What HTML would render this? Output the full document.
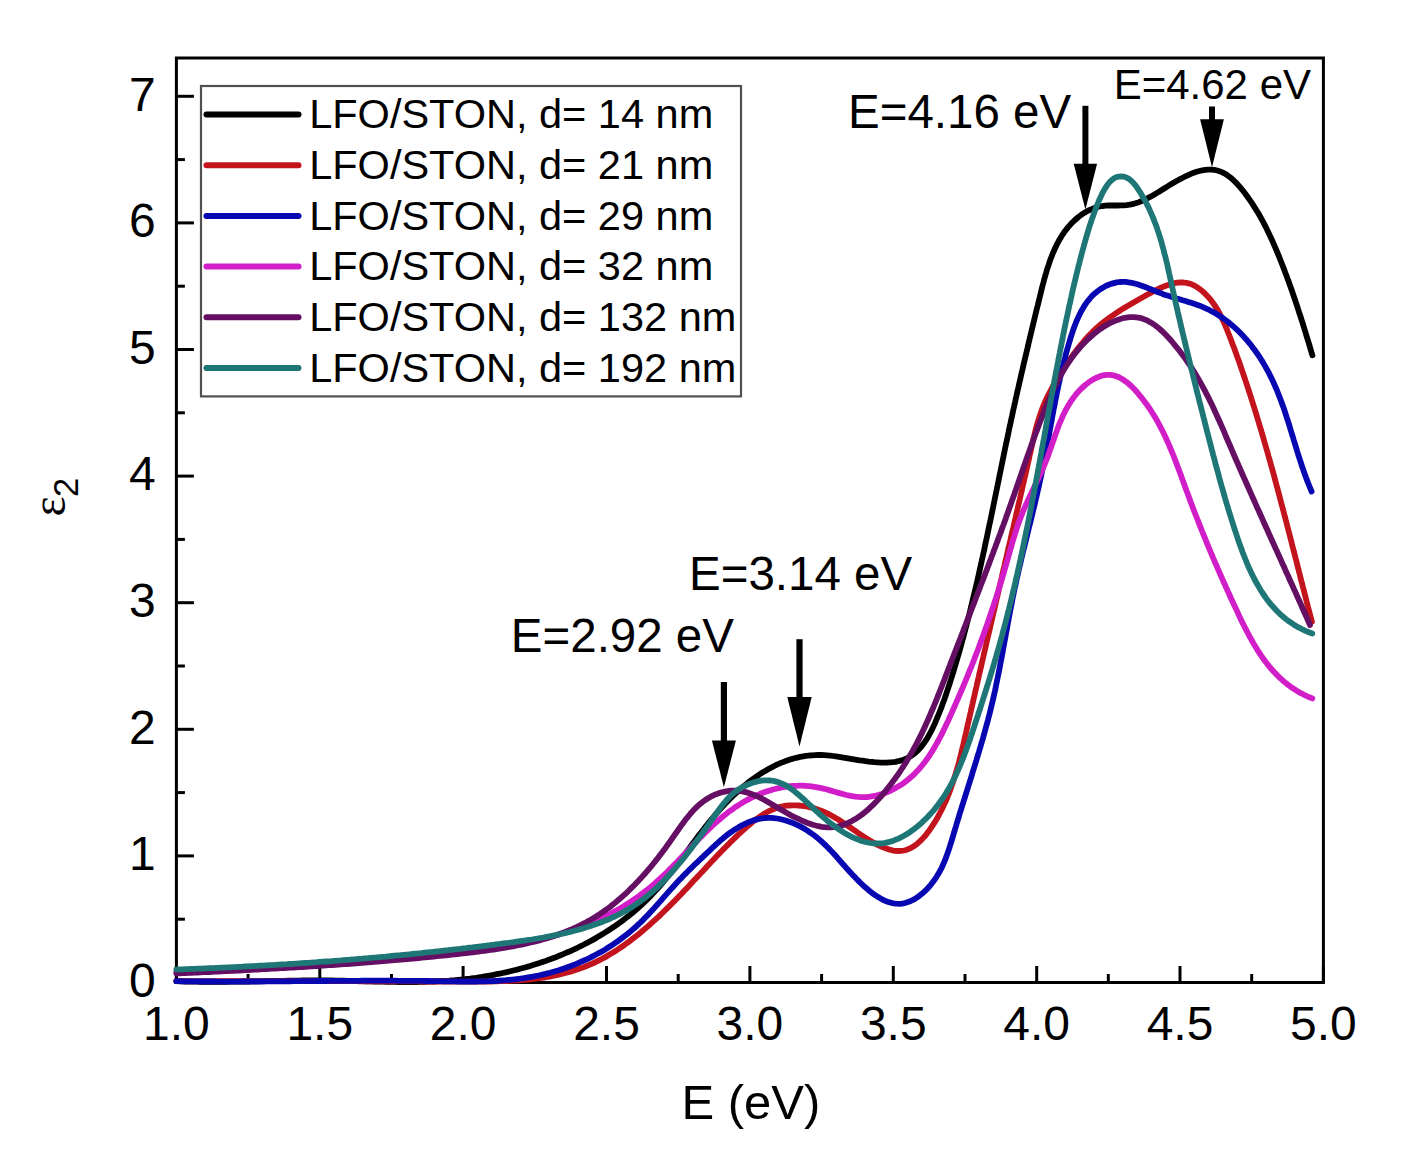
<!DOCTYPE html>
<html><head><meta charset="utf-8"><style>
html,body{margin:0;padding:0;background:#fff;}
svg{display:block;}
text{font-family:"Liberation Sans",sans-serif;fill:#000;}
</style></head><body>
<svg width="1416" height="1162" viewBox="0 0 1416 1162">
<rect x="0" y="0" width="1416" height="1162" fill="#fff"/>
<rect x="176.4" y="58" width="1147.0" height="924.5" fill="none" stroke="#000" stroke-width="3"/>
<g stroke="#000" stroke-width="3">
<line x1="176.4" y1="982.5" x2="176.4" y2="966.0"/>
<line x1="248.1" y1="982.5" x2="248.1" y2="974.0"/>
<line x1="319.8" y1="982.5" x2="319.8" y2="966.0"/>
<line x1="391.5" y1="982.5" x2="391.5" y2="974.0"/>
<line x1="463.1" y1="982.5" x2="463.1" y2="966.0"/>
<line x1="534.8" y1="982.5" x2="534.8" y2="974.0"/>
<line x1="606.5" y1="982.5" x2="606.5" y2="966.0"/>
<line x1="678.2" y1="982.5" x2="678.2" y2="974.0"/>
<line x1="749.9" y1="982.5" x2="749.9" y2="966.0"/>
<line x1="821.6" y1="982.5" x2="821.6" y2="974.0"/>
<line x1="893.3" y1="982.5" x2="893.3" y2="966.0"/>
<line x1="965.0" y1="982.5" x2="965.0" y2="974.0"/>
<line x1="1036.7" y1="982.5" x2="1036.7" y2="966.0"/>
<line x1="1108.3" y1="982.5" x2="1108.3" y2="974.0"/>
<line x1="1180.0" y1="982.5" x2="1180.0" y2="966.0"/>
<line x1="1251.7" y1="982.5" x2="1251.7" y2="974.0"/>
<line x1="1323.4" y1="982.5" x2="1323.4" y2="966.0"/>
<line x1="176.4" y1="982.5" x2="193.9" y2="982.5"/>
<line x1="176.4" y1="919.2" x2="184.9" y2="919.2"/>
<line x1="176.4" y1="855.9" x2="193.9" y2="855.9"/>
<line x1="176.4" y1="792.6" x2="184.9" y2="792.6"/>
<line x1="176.4" y1="729.3" x2="193.9" y2="729.3"/>
<line x1="176.4" y1="666.0" x2="184.9" y2="666.0"/>
<line x1="176.4" y1="602.7" x2="193.9" y2="602.7"/>
<line x1="176.4" y1="539.4" x2="184.9" y2="539.4"/>
<line x1="176.4" y1="476.1" x2="193.9" y2="476.1"/>
<line x1="176.4" y1="412.8" x2="184.9" y2="412.8"/>
<line x1="176.4" y1="349.5" x2="193.9" y2="349.5"/>
<line x1="176.4" y1="286.2" x2="184.9" y2="286.2"/>
<line x1="176.4" y1="222.9" x2="193.9" y2="222.9"/>
<line x1="176.4" y1="159.6" x2="184.9" y2="159.6"/>
<line x1="176.4" y1="96.3" x2="193.9" y2="96.3"/>
</g>
<g fill="none" stroke-width="5.8" stroke-linecap="round" stroke-linejoin="round">
<path d="M176.4,981.2L179.4,981.3 182.4,981.4 185.4,981.5 188.4,981.6 191.4,981.6 194.4,981.7 197.4,981.7 200.4,981.8 203.4,981.8 206.4,981.8 209.4,981.8 212.4,981.8 215.4,981.8 218.4,981.8 221.4,981.8 224.4,981.8 227.4,981.8 230.4,981.7 233.4,981.7 236.4,981.7 239.4,981.6 242.4,981.6 245.4,981.5 248.4,981.5 251.4,981.4 254.4,981.4 257.4,981.3 260.3,981.2 263.3,981.2 266.3,981.1 269.3,981.1 272.3,981.0 275.3,980.9 278.3,980.9 281.3,980.8 284.3,980.8 287.3,980.7 290.3,980.7 293.3,980.6 296.3,980.6 299.3,980.6 302.3,980.5 305.3,980.5 308.3,980.5 311.3,980.5 314.3,980.4 317.3,980.4 320.3,980.4 323.3,980.5 326.3,980.5 329.3,980.5 332.3,980.5 335.3,980.6 338.3,980.6 341.3,980.7 344.3,980.7 347.3,980.8 350.3,980.9 353.3,981.0 356.3,981.0 359.3,981.1 362.3,981.2 365.3,981.3 368.3,981.4 371.3,981.4 374.3,981.5 377.3,981.6 380.3,981.7 383.3,981.7 386.3,981.8 389.3,981.8 392.3,981.9 395.3,981.9 398.3,982.0 401.3,982.0 404.3,982.0 407.3,982.0 410.3,982.0 413.3,982.0 416.3,982.0 419.3,981.9 422.2,981.9 425.2,981.8 428.2,981.7 431.2,981.6 434.2,981.5 437.2,981.4 440.2,981.2 443.2,981.1 446.2,980.9 449.2,980.7 452.2,980.4 455.2,980.2 458.2,979.9 461.2,979.6 464.1,979.3 467.1,978.9 470.1,978.6 473.1,978.2 476.0,977.8 479.0,977.3 482.0,976.9 484.9,976.4 487.9,975.9 490.8,975.4 493.8,974.8 496.7,974.2 499.7,973.7 502.6,973.0 505.5,972.4 508.4,971.7 511.4,971.0 514.3,970.3 517.2,969.6 520.1,968.8 523.0,968.0 525.9,967.2 528.7,966.4 531.6,965.5 534.5,964.6 537.3,963.7 540.2,962.8 543.0,961.8 545.9,960.9 548.7,959.8 551.5,958.8 554.3,957.7 557.1,956.7 559.9,955.5 562.6,954.4 565.4,953.2 568.2,952.0 570.9,950.8 573.6,949.6 576.3,948.3 579.0,947.0 581.7,945.7 584.4,944.3 587.1,942.9 589.7,941.5 592.3,940.1 595.0,938.6 597.6,937.1 600.1,935.6 602.7,934.0 605.3,932.4 607.8,930.8 610.3,929.2 612.8,927.5 615.3,925.8 617.7,924.1 620.1,922.4 622.6,920.6 624.9,918.8 627.3,916.9 629.7,915.1 632.0,913.2 634.3,911.2 636.6,909.3 638.8,907.3 641.0,905.3 643.2,903.3 645.4,901.2 647.5,899.1 649.7,897.0 651.7,894.8 653.8,892.6 655.8,890.4 657.8,888.2 659.8,886.0 661.8,883.7 663.7,881.4 665.6,879.1 667.5,876.8 669.4,874.4 671.3,872.1 673.1,869.7 675.0,867.3 676.8,865.0 678.6,862.6 680.4,860.2 682.2,857.8 684.0,855.4 685.8,853.0 687.6,850.6 689.4,848.2 691.1,845.7 692.9,843.3 694.7,840.9 696.5,838.5 698.3,836.1 700.1,833.8 702.0,831.4 703.8,829.0 705.6,826.6 707.5,824.3 709.4,821.9 711.3,819.6 713.2,817.3 715.1,815.0 717.1,812.7 719.0,810.5 721.0,808.2 723.1,806.0 725.1,803.8 727.2,801.7 729.3,799.5 731.4,797.4 733.5,795.3 735.7,793.3 737.9,791.2 740.2,789.2 742.4,787.3 744.7,785.4 747.1,783.5 749.4,781.6 751.8,779.8 754.3,778.0 756.7,776.3 759.2,774.6 761.7,773.0 764.3,771.4 766.9,769.9 769.5,768.5 772.1,767.1 774.8,765.7 777.5,764.4 780.3,763.2 783.0,762.1 785.8,761.0 788.7,760.0 791.5,759.1 794.4,758.3 797.3,757.6 800.2,756.9 803.2,756.4 806.1,755.9 809.1,755.5 812.1,755.3 815.1,755.1 818.1,755.0 821.1,755.0 824.1,755.2 827.1,755.4 830.1,755.6 833.1,756.0 836.0,756.4 839.0,756.8 842.0,757.3 844.9,757.8 847.9,758.3 850.8,758.8 853.8,759.3 856.7,759.8 859.7,760.3 862.7,760.7 865.6,761.2 868.6,761.6 871.6,761.9 874.6,762.2 877.6,762.4 880.5,762.6 883.5,762.6 886.5,762.6 889.5,762.4 892.5,762.2 895.5,761.8 898.4,761.2 901.3,760.4 904.2,759.5 906.9,758.3 909.6,756.9 912.1,755.3 914.5,753.5 916.8,751.5 918.9,749.4 920.9,747.2 922.7,744.8 924.5,742.4 926.2,739.9 927.7,737.4 929.2,734.8 930.7,732.1 932.0,729.4 933.3,726.7 934.6,724.0 935.8,721.3 936.9,718.5 938.1,715.7 939.2,713.0 940.3,710.2 941.4,707.4 942.4,704.6 943.5,701.7 944.5,698.9 945.5,696.1 946.4,693.3 947.4,690.4 948.3,687.6 949.3,684.7 950.2,681.9 951.1,679.0 952.0,676.1 952.9,673.3 953.8,670.4 954.6,667.5 955.5,664.7 956.3,661.8 957.2,658.9 958.0,656.0 958.9,653.2 959.7,650.3 960.5,647.4 961.3,644.5 962.1,641.6 962.9,638.7 963.7,635.8 964.4,632.9 965.2,630.0 966.0,627.1 966.7,624.2 967.5,621.3 968.2,618.4 969.0,615.5 969.7,612.6 970.4,609.7 971.1,606.8 971.8,603.9 972.5,600.9 973.2,598.0 973.9,595.1 974.6,592.2 975.3,589.3 976.0,586.4 976.7,583.4 977.4,580.5 978.0,577.6 978.7,574.7 979.3,571.7 980.0,568.8 980.6,565.9 981.3,563.0 981.9,560.0 982.6,557.1 983.2,554.2 983.9,551.2 984.5,548.3 985.1,545.4 985.7,542.4 986.4,539.5 987.0,536.6 987.6,533.6 988.2,530.7 988.8,527.8 989.4,524.8 990.1,521.9 990.7,519.0 991.3,516.0 991.9,513.1 992.5,510.2 993.1,507.2 993.7,504.3 994.3,501.3 994.9,498.4 995.5,495.5 996.1,492.5 996.7,489.6 997.3,486.7 997.9,483.7 998.5,480.8 999.1,477.8 999.7,474.9 1000.3,472.0 1000.9,469.0 1001.5,466.1 1002.1,463.2 1002.7,460.2 1003.3,457.3 1003.9,454.3 1004.5,451.4 1005.1,448.5 1005.7,445.5 1006.3,442.6 1007.0,439.7 1007.6,436.7 1008.2,433.8 1008.8,430.9 1009.4,427.9 1010.1,425.0 1010.7,422.1 1011.3,419.1 1012.0,416.2 1012.6,413.3 1013.2,410.3 1013.9,407.4 1014.5,404.5 1015.2,401.6 1015.8,398.6 1016.5,395.7 1017.1,392.8 1017.8,389.9 1018.5,386.9 1019.1,384.0 1019.8,381.1 1020.5,378.2 1021.1,375.2 1021.8,372.3 1022.5,369.4 1023.2,366.5 1023.8,363.6 1024.5,360.6 1025.2,357.7 1025.9,354.8 1026.6,351.9 1027.3,349.0 1028.0,346.0 1028.6,343.1 1029.3,340.2 1030.0,337.3 1030.7,334.4 1031.4,331.5 1032.1,328.5 1032.8,325.6 1033.5,322.7 1034.2,319.8 1034.9,316.9 1035.6,314.0 1036.3,311.0 1037.0,308.1 1037.8,305.2 1038.5,302.3 1039.2,299.4 1039.9,296.5 1040.6,293.6 1041.3,290.7 1042.0,287.7 1042.8,284.8 1043.6,281.9 1044.3,279.0 1045.1,276.2 1046.0,273.3 1046.8,270.4 1047.7,267.5 1048.7,264.7 1049.6,261.9 1050.6,259.0 1051.7,256.2 1052.8,253.4 1054.0,250.7 1055.2,248.0 1056.5,245.2 1057.9,242.6 1059.3,239.9 1060.8,237.4 1062.4,234.8 1064.1,232.3 1065.9,229.9 1067.7,227.6 1069.7,225.3 1071.7,223.1 1073.9,221.0 1076.1,219.0 1078.4,217.0 1080.8,215.2 1083.2,213.5 1085.8,212.0 1088.4,210.5 1091.2,209.3 1093.9,208.2 1096.8,207.2 1099.7,206.5 1102.7,206.0 1105.6,205.7 1108.6,205.5 1111.6,205.5 1114.6,205.5 1117.6,205.5 1120.6,205.4 1123.6,205.3 1126.6,205.1 1129.6,204.7 1132.5,204.1 1135.4,203.3 1138.3,202.4 1141.1,201.3 1143.8,200.1 1146.5,198.8 1149.2,197.4 1151.8,196.0 1154.4,194.5 1157.0,192.9 1159.5,191.4 1162.1,189.8 1164.6,188.2 1167.2,186.6 1169.7,185.1 1172.3,183.5 1174.9,182.0 1177.5,180.5 1180.1,179.1 1182.8,177.7 1185.5,176.3 1188.2,175.1 1190.9,173.9 1193.7,172.8 1196.6,171.8 1199.5,171.0 1202.4,170.3 1205.3,169.8 1208.3,169.6 1211.3,169.6 1214.3,169.9 1217.2,170.5 1220.1,171.4 1222.8,172.6 1225.5,174.0 1228.0,175.7 1230.4,177.5 1232.6,179.4 1234.8,181.5 1236.9,183.6 1238.9,185.9 1240.9,188.1 1242.8,190.5 1244.6,192.8 1246.4,195.2 1248.2,197.7 1249.9,200.1 1251.6,202.6 1253.2,205.1 1254.8,207.6 1256.4,210.2 1258.0,212.7 1259.5,215.3 1260.9,217.9 1262.4,220.6 1263.8,223.2 1265.2,225.9 1266.5,228.6 1267.8,231.3 1269.1,234.0 1270.4,236.7 1271.7,239.4 1272.9,242.1 1274.1,244.9 1275.3,247.6 1276.5,250.4 1277.6,253.2 1278.8,255.9 1279.9,258.7 1281.0,261.5 1282.1,264.3 1283.2,267.1 1284.3,269.9 1285.3,272.7 1286.4,275.5 1287.4,278.3 1288.5,281.1 1289.5,283.9 1290.5,286.8 1291.5,289.6 1292.5,292.4 1293.4,295.3 1294.4,298.1 1295.4,300.9 1296.3,303.8 1297.3,306.6 1298.2,309.5 1299.1,312.3 1300.1,315.2 1301.0,318.0 1301.9,320.9 1302.8,323.7 1303.7,326.6 1304.6,329.5 1305.5,332.3 1306.3,335.2 1307.2,338.1 1308.1,340.9 1309.0,343.8 1309.8,346.7 1310.7,349.6 1311.5,352.4 1312.4,355.3" stroke="#000000"/>
<path d="M176.4,981.2L179.4,981.2 182.4,981.2 185.4,981.2 188.4,981.2 191.4,981.2 194.4,981.1 197.4,981.1 200.4,981.1 203.4,981.1 206.4,981.1 209.4,981.1 212.4,981.1 215.4,981.1 218.4,981.1 221.4,981.1 224.4,981.1 227.4,981.1 230.4,981.1 233.4,981.1 236.4,981.1 239.3,981.1 242.3,981.1 245.3,981.1 248.3,981.1 251.3,981.1 254.3,981.1 257.3,981.1 260.3,981.1 263.3,981.1 266.3,981.1 269.3,981.1 272.3,981.1 275.3,981.1 278.3,981.1 281.3,981.1 284.3,981.1 287.3,981.1 290.3,981.1 293.3,981.1 296.3,981.1 299.3,981.1 302.3,981.1 305.3,981.1 308.3,981.1 311.3,981.1 314.3,981.1 317.3,981.2 320.3,981.2 323.3,981.2 326.3,981.2 329.3,981.2 332.3,981.2 335.3,981.2 338.3,981.2 341.3,981.2 344.3,981.2 347.3,981.2 350.3,981.2 353.3,981.2 356.3,981.2 359.3,981.3 362.3,981.3 365.2,981.3 368.2,981.3 371.2,981.3 374.2,981.3 377.2,981.3 380.2,981.3 383.2,981.3 386.2,981.3 389.2,981.3 392.2,981.4 395.2,981.4 398.2,981.4 401.2,981.4 404.2,981.4 407.2,981.4 410.2,981.4 413.2,981.4 416.2,981.4 419.2,981.4 422.2,981.5 425.2,981.5 428.2,981.5 431.2,981.5 434.2,981.5 437.2,981.5 440.2,981.5 443.2,981.5 446.2,981.5 449.2,981.5 452.2,981.6 455.2,981.6 458.2,981.6 461.2,981.6 464.2,981.6 467.2,981.6 470.2,981.6 473.2,981.6 476.2,981.6 479.2,981.6 482.2,981.6 485.2,981.5 488.2,981.5 491.1,981.5 494.1,981.4 497.1,981.3 500.1,981.2 503.1,981.1 506.1,981.0 509.1,980.9 512.1,980.7 515.1,980.5 518.1,980.3 521.1,980.1 524.1,979.9 527.1,979.6 530.0,979.3 533.0,979.0 536.0,978.6 539.0,978.2 541.9,977.8 544.9,977.3 547.9,976.8 550.8,976.3 553.7,975.7 556.7,975.1 559.6,974.4 562.5,973.7 565.4,973.0 568.3,972.2 571.2,971.4 574.1,970.5 576.9,969.6 579.8,968.6 582.6,967.6 585.4,966.5 588.2,965.4 590.9,964.2 593.6,963.0 596.4,961.7 599.0,960.4 601.7,959.0 604.3,957.6 607.0,956.1 609.5,954.6 612.1,953.1 614.7,951.5 617.2,949.9 619.7,948.2 622.2,946.5 624.6,944.8 627.0,943.0 629.5,941.3 631.8,939.4 634.2,937.6 636.6,935.8 638.9,933.9 641.2,932.0 643.5,930.0 645.8,928.1 648.1,926.1 650.3,924.2 652.5,922.2 654.8,920.1 657.0,918.1 659.2,916.1 661.3,914.0 663.5,911.9 665.6,909.8 667.8,907.7 669.9,905.6 672.0,903.5 674.1,901.4 676.2,899.2 678.3,897.1 680.4,894.9 682.5,892.7 684.5,890.6 686.6,888.4 688.7,886.2 690.7,884.0 692.7,881.8 694.8,879.6 696.8,877.5 698.9,875.3 700.9,873.1 703.0,870.9 705.0,868.7 707.0,866.5 709.1,864.3 711.1,862.1 713.2,859.9 715.3,857.7 717.3,855.6 719.4,853.4 721.5,851.3 723.6,849.1 725.7,847.0 727.8,844.9 729.9,842.7 732.1,840.6 734.2,838.5 736.4,836.5 738.5,834.4 740.7,832.4 742.9,830.3 745.2,828.3 747.4,826.3 749.7,824.4 752.0,822.5 754.3,820.6 756.7,818.8 759.2,817.1 761.7,815.4 764.2,813.8 766.8,812.3 769.5,810.9 772.2,809.7 775.0,808.6 777.8,807.6 780.7,806.8 783.6,806.2 786.6,805.7 789.6,805.5 792.6,805.3 795.6,805.3 798.6,805.5 801.6,805.8 804.5,806.2 807.5,806.7 810.4,807.4 813.3,808.1 816.2,809.0 819.0,810.0 821.8,811.0 824.6,812.2 827.3,813.4 830.0,814.8 832.6,816.2 835.2,817.7 837.8,819.2 840.3,820.8 842.8,822.5 845.3,824.1 847.8,825.8 850.3,827.5 852.7,829.2 855.2,830.9 857.7,832.6 860.2,834.3 862.7,836.0 865.2,837.6 867.7,839.2 870.3,840.8 872.9,842.3 875.5,843.7 878.1,845.1 880.8,846.4 883.6,847.6 886.4,848.6 889.3,849.6 892.2,850.3 895.1,850.8 898.1,851.0 901.1,850.9 904.1,850.5 906.9,849.7 909.7,848.5 912.4,847.1 914.9,845.5 917.3,843.7 919.5,841.7 921.7,839.6 923.7,837.4 925.7,835.2 927.5,832.8 929.3,830.4 931.0,827.9 932.7,825.4 934.3,822.9 935.8,820.4 937.4,817.8 938.8,815.2 940.2,812.5 941.6,809.8 942.9,807.2 944.2,804.4 945.5,801.7 946.7,799.0 947.8,796.2 948.9,793.4 950.0,790.6 951.0,787.8 952.0,785.0 953.0,782.1 953.9,779.3 954.8,776.4 955.7,773.6 956.6,770.7 957.4,767.8 958.2,764.9 959.0,762.0 959.7,759.1 960.5,756.2 961.2,753.3 961.9,750.4 962.6,747.5 963.3,744.6 964.0,741.7 964.6,738.7 965.3,735.8 966.0,732.9 966.6,730.0 967.3,727.0 967.9,724.1 968.6,721.2 969.2,718.3 969.9,715.3 970.6,712.4 971.2,709.5 971.9,706.6 972.6,703.6 973.2,700.7 973.9,697.8 974.6,694.9 975.2,692.0 975.9,689.0 976.6,686.1 977.2,683.2 977.9,680.3 978.6,677.3 979.2,674.4 979.9,671.5 980.6,668.6 981.3,665.7 981.9,662.7 982.6,659.8 983.3,656.9 983.9,654.0 984.6,651.1 985.3,648.1 986.0,645.2 986.6,642.3 987.3,639.4 988.0,636.4 988.7,633.5 989.4,630.6 990.0,627.7 990.7,624.8 991.4,621.8 992.1,618.9 992.7,616.0 993.4,613.1 994.1,610.2 994.8,607.2 995.5,604.3 996.1,601.4 996.8,598.5 997.5,595.6 998.2,592.6 998.8,589.7 999.5,586.8 1000.2,583.9 1000.9,581.0 1001.6,578.1 1002.2,575.1 1002.9,572.2 1003.6,569.3 1004.3,566.4 1004.9,563.5 1005.6,560.5 1006.3,557.6 1007.0,554.7 1007.7,551.8 1008.3,548.8 1009.0,545.9 1009.7,543.0 1010.4,540.1 1011.0,537.2 1011.7,534.2 1012.4,531.3 1013.1,528.4 1013.7,525.5 1014.4,522.6 1015.1,519.6 1015.8,516.7 1016.4,513.8 1017.1,510.9 1017.8,508.0 1018.4,505.0 1019.1,502.1 1019.8,499.2 1020.4,496.3 1021.1,493.3 1021.8,490.4 1022.4,487.5 1023.1,484.6 1023.8,481.7 1024.4,478.7 1025.1,475.8 1025.8,472.9 1026.4,470.0 1027.1,467.0 1027.8,464.1 1028.4,461.2 1029.1,458.3 1029.7,455.3 1030.4,452.4 1031.0,449.5 1031.7,446.6 1032.4,443.6 1033.0,440.7 1033.7,437.8 1034.4,434.9 1035.1,432.0 1035.8,429.1 1036.6,426.2 1037.4,423.3 1038.3,420.4 1039.2,417.5 1040.1,414.7 1041.1,411.9 1042.1,409.1 1043.2,406.3 1044.4,403.5 1045.6,400.8 1046.9,398.0 1048.2,395.3 1049.5,392.7 1050.9,390.0 1052.3,387.4 1053.7,384.7 1055.2,382.1 1056.8,379.5 1058.3,377.0 1059.9,374.4 1061.5,371.9 1063.1,369.4 1064.8,366.9 1066.4,364.4 1068.1,361.9 1069.9,359.5 1071.6,357.0 1073.3,354.6 1075.1,352.2 1076.9,349.8 1078.8,347.4 1080.6,345.1 1082.6,342.8 1084.5,340.5 1086.5,338.2 1088.5,336.0 1090.6,333.9 1092.7,331.7 1094.8,329.7 1097.0,327.6 1099.3,325.6 1101.6,323.7 1103.9,321.8 1106.3,320.0 1108.7,318.2 1111.1,316.5 1113.6,314.8 1116.1,313.1 1118.6,311.5 1121.1,309.8 1123.7,308.3 1126.2,306.7 1128.8,305.2 1131.4,303.7 1134.0,302.2 1136.6,300.7 1139.2,299.2 1141.8,297.7 1144.5,296.3 1147.1,294.8 1149.7,293.4 1152.3,292.0 1155.0,290.6 1157.7,289.2 1160.4,288.0 1163.1,286.8 1165.9,285.7 1168.8,284.7 1171.6,283.8 1174.6,283.2 1177.5,282.7 1180.5,282.5 1183.5,282.5 1186.5,282.9 1189.4,283.6 1192.2,284.6 1194.9,285.9 1197.5,287.5 1199.9,289.2 1202.3,291.1 1204.5,293.1 1206.6,295.2 1208.6,297.4 1210.6,299.7 1212.4,302.1 1214.1,304.5 1215.8,307.0 1217.4,309.6 1218.9,312.2 1220.3,314.8 1221.6,317.5 1222.9,320.2 1224.1,322.9 1225.3,325.7 1226.5,328.4 1227.6,331.2 1228.7,334.0 1229.8,336.8 1230.9,339.6 1231.9,342.4 1233.0,345.2 1234.1,348.0 1235.1,350.8 1236.1,353.6 1237.1,356.4 1238.2,359.3 1239.2,362.1 1240.2,364.9 1241.1,367.8 1242.1,370.6 1243.1,373.4 1244.0,376.3 1245.0,379.1 1245.9,382.0 1246.9,384.8 1247.8,387.6 1248.7,390.5 1249.7,393.3 1250.6,396.2 1251.5,399.1 1252.4,401.9 1253.3,404.8 1254.2,407.6 1255.1,410.5 1256.0,413.4 1256.8,416.2 1257.7,419.1 1258.6,422.0 1259.4,424.8 1260.3,427.7 1261.2,430.6 1262.0,433.5 1262.9,436.3 1263.7,439.2 1264.5,442.1 1265.4,445.0 1266.2,447.9 1267.0,450.7 1267.8,453.6 1268.6,456.5 1269.5,459.4 1270.3,462.3 1271.1,465.2 1271.9,468.1 1272.7,470.9 1273.5,473.8 1274.3,476.7 1275.0,479.6 1275.8,482.5 1276.6,485.4 1277.4,488.3 1278.2,491.2 1278.9,494.1 1279.7,497.0 1280.5,499.9 1281.2,502.8 1282.0,505.7 1282.8,508.6 1283.5,511.5 1284.3,514.4 1285.1,517.3 1285.8,520.2 1286.6,523.1 1287.3,526.0 1288.1,528.9 1288.8,531.8 1289.6,534.7 1290.3,537.6 1291.1,540.5 1291.8,543.4 1292.5,546.3 1293.3,549.2 1294.0,552.1 1294.8,555.0 1295.5,557.9 1296.3,560.8 1297.0,563.7 1297.7,566.6 1298.5,569.5 1299.2,572.4 1300.0,575.3 1300.7,578.3 1301.4,581.2 1302.2,584.1 1302.9,587.0 1303.7,589.9 1304.4,592.8 1305.2,595.7 1305.9,598.6 1306.6,601.5 1307.4,604.4 1308.1,607.3 1308.9,610.2 1309.6,613.1 1310.4,616.0 1311.2,618.9 1311.9,621.8" stroke="#c3141e"/>
<path d="M176.4,981.2L179.4,981.2 182.4,981.3 185.4,981.3 188.4,981.4 191.4,981.4 194.4,981.4 197.4,981.4 200.4,981.5 203.4,981.5 206.4,981.5 209.4,981.5 212.4,981.5 215.4,981.5 218.4,981.6 221.3,981.6 224.3,981.6 227.3,981.6 230.3,981.6 233.3,981.6 236.3,981.6 239.3,981.6 242.3,981.5 245.3,981.5 248.3,981.5 251.3,981.5 254.3,981.5 257.3,981.5 260.3,981.5 263.3,981.5 266.3,981.4 269.3,981.4 272.3,981.4 275.3,981.4 278.3,981.4 281.3,981.3 284.3,981.3 287.3,981.3 290.3,981.3 293.3,981.2 296.3,981.2 299.3,981.2 302.3,981.2 305.3,981.1 308.3,981.1 311.2,981.1 314.2,981.1 317.2,981.0 320.2,981.0 323.2,981.0 326.2,981.0 329.2,980.9 332.2,980.9 335.2,980.9 338.2,980.9 341.2,980.9 344.2,980.8 347.2,980.8 350.2,980.8 353.2,980.8 356.2,980.8 359.2,980.8 362.2,980.7 365.2,980.7 368.2,980.7 371.2,980.7 374.2,980.7 377.2,980.7 380.2,980.7 383.2,980.7 386.2,980.7 389.2,980.7 392.2,980.7 395.2,980.7 398.2,980.8 401.1,980.8 404.1,980.8 407.1,980.8 410.1,980.8 413.1,980.8 416.1,980.9 419.1,980.9 422.1,980.9 425.1,981.0 428.1,981.0 431.1,981.1 434.1,981.1 437.1,981.2 440.1,981.2 443.1,981.3 446.1,981.3 449.1,981.3 452.1,981.4 455.1,981.4 458.1,981.5 461.1,981.5 464.1,981.5 467.1,981.5 470.1,981.5 473.1,981.5 476.1,981.5 479.1,981.4 482.1,981.4 485.0,981.3 488.0,981.2 491.0,981.1 494.0,981.0 497.0,980.8 500.0,980.6 503.0,980.4 506.0,980.2 509.0,979.9 512.0,979.6 514.9,979.3 517.9,979.0 520.9,978.6 523.9,978.2 526.8,977.7 529.8,977.2 532.7,976.7 535.7,976.1 538.6,975.5 541.5,974.8 544.4,974.2 547.3,973.4 550.2,972.7 553.1,971.9 556.0,971.0 558.9,970.2 561.7,969.2 564.6,968.3 567.4,967.3 570.2,966.3 573.0,965.2 575.8,964.1 578.6,962.9 581.3,961.7 584.0,960.5 586.8,959.3 589.5,958.0 592.1,956.6 594.8,955.2 597.5,953.8 600.1,952.4 602.7,950.9 605.3,949.4 607.8,947.8 610.3,946.2 612.8,944.6 615.3,942.9 617.8,941.2 620.2,939.4 622.6,937.6 625.0,935.8 627.4,934.0 629.7,932.1 632.0,930.1 634.2,928.2 636.5,926.2 638.7,924.1 640.9,922.1 643.0,920.0 645.1,917.8 647.2,915.7 649.2,913.5 651.3,911.3 653.3,909.1 655.3,906.9 657.3,904.6 659.3,902.4 661.3,900.1 663.2,897.9 665.2,895.6 667.2,893.4 669.2,891.1 671.2,888.9 673.2,886.7 675.2,884.5 677.2,882.3 679.3,880.1 681.4,877.9 683.4,875.8 685.6,873.6 687.7,871.5 689.8,869.4 692.0,867.3 694.1,865.2 696.3,863.2 698.4,861.1 700.6,859.0 702.8,857.0 704.9,854.9 707.1,852.8 709.3,850.8 711.5,848.7 713.7,846.7 715.8,844.6 718.1,842.6 720.3,840.6 722.6,838.7 724.9,836.7 727.2,834.9 729.6,833.1 732.1,831.3 734.5,829.7 737.1,828.1 739.7,826.5 742.3,825.1 745.0,823.8 747.7,822.5 750.5,821.4 753.3,820.4 756.2,819.6 759.1,818.9 762.1,818.4 765.0,818.0 768.0,817.9 771.0,817.9 774.0,818.1 777.0,818.5 779.9,819.0 782.9,819.7 785.7,820.5 788.6,821.4 791.4,822.4 794.2,823.6 796.9,824.8 799.6,826.1 802.2,827.5 804.8,829.0 807.4,830.6 809.9,832.3 812.3,834.0 814.7,835.8 817.1,837.6 819.4,839.6 821.6,841.5 823.8,843.6 826.0,845.7 828.1,847.8 830.2,849.9 832.2,852.1 834.3,854.3 836.3,856.5 838.3,858.8 840.2,861.0 842.2,863.3 844.2,865.5 846.2,867.8 848.2,870.0 850.2,872.2 852.2,874.4 854.3,876.6 856.4,878.8 858.5,880.9 860.6,883.0 862.8,885.1 865.0,887.1 867.3,889.0 869.6,890.9 871.9,892.8 874.4,894.6 876.8,896.2 879.4,897.8 882.0,899.3 884.7,900.6 887.5,901.7 890.3,902.6 893.3,903.3 896.2,903.7 899.2,903.8 902.2,903.6 905.1,903.0 908.0,902.1 910.8,901.0 913.5,899.7 916.0,898.1 918.5,896.5 920.9,894.6 923.2,892.7 925.4,890.7 927.5,888.5 929.5,886.3 931.4,884.0 933.2,881.6 935.0,879.2 936.6,876.7 938.2,874.1 939.7,871.5 941.1,868.9 942.4,866.2 943.6,863.4 944.8,860.7 945.9,857.9 946.9,855.1 947.9,852.3 948.9,849.4 949.8,846.6 950.7,843.7 951.6,840.8 952.5,838.0 953.3,835.1 954.2,832.2 955.0,829.4 955.9,826.5 956.7,823.6 957.6,820.7 958.5,817.9 959.3,815.0 960.2,812.1 961.1,809.3 962.0,806.4 962.9,803.6 963.8,800.7 964.7,797.8 965.6,795.0 966.5,792.1 967.4,789.3 968.3,786.4 969.2,783.5 970.1,780.7 971.0,777.8 971.9,775.0 972.7,772.1 973.6,769.2 974.5,766.4 975.4,763.5 976.3,760.6 977.1,757.8 978.0,754.9 978.9,752.0 979.7,749.2 980.6,746.3 981.4,743.4 982.3,740.5 983.1,737.7 983.9,734.8 984.7,731.9 985.5,729.0 986.3,726.1 987.1,723.2 987.9,720.3 988.6,717.4 989.4,714.5 990.1,711.6 990.8,708.7 991.5,705.8 992.2,702.9 992.9,700.0 993.6,697.0 994.2,694.1 994.9,691.2 995.5,688.3 996.1,685.3 996.7,682.4 997.3,679.5 997.9,676.5 998.5,673.6 999.1,670.6 999.7,667.7 1000.2,664.8 1000.8,661.8 1001.4,658.9 1001.9,655.9 1002.5,653.0 1003.0,650.0 1003.5,647.1 1004.1,644.1 1004.6,641.2 1005.2,638.2 1005.7,635.3 1006.2,632.3 1006.8,629.4 1007.3,626.5 1007.8,623.5 1008.4,620.6 1008.9,617.6 1009.5,614.7 1010.0,611.7 1010.6,608.8 1011.2,605.8 1011.8,602.9 1012.3,600.0 1012.9,597.0 1013.5,594.1 1014.1,591.1 1014.7,588.2 1015.4,585.3 1016.0,582.4 1016.6,579.4 1017.3,576.5 1018.0,573.6 1018.6,570.7 1019.3,567.7 1020.0,564.8 1020.7,561.9 1021.3,559.0 1022.0,556.1 1022.7,553.2 1023.4,550.2 1024.2,547.3 1024.9,544.4 1025.6,541.5 1026.3,538.6 1027.0,535.7 1027.7,532.8 1028.4,529.9 1029.1,527.0 1029.9,524.0 1030.6,521.1 1031.3,518.2 1032.0,515.3 1032.7,512.4 1033.4,509.5 1034.1,506.6 1034.8,503.7 1035.5,500.7 1036.2,497.8 1036.9,494.9 1037.5,492.0 1038.2,489.1 1038.9,486.1 1039.5,483.2 1040.1,480.3 1040.8,477.4 1041.4,474.4 1042.0,471.5 1042.6,468.6 1043.2,465.6 1043.8,462.7 1044.4,459.7 1044.9,456.8 1045.5,453.9 1046.1,450.9 1046.6,448.0 1047.2,445.0 1047.7,442.1 1048.2,439.1 1048.8,436.2 1049.3,433.2 1049.8,430.3 1050.4,427.3 1050.9,424.4 1051.5,421.4 1052.0,418.5 1052.5,415.5 1053.1,412.6 1053.6,409.6 1054.2,406.7 1054.8,403.8 1055.3,400.8 1055.9,397.9 1056.5,394.9 1057.1,392.0 1057.7,389.1 1058.3,386.1 1058.9,383.2 1059.6,380.3 1060.2,377.3 1060.9,374.4 1061.6,371.5 1062.3,368.6 1063.0,365.7 1063.7,362.8 1064.4,359.9 1065.2,357.0 1065.9,354.1 1066.7,351.2 1067.5,348.3 1068.4,345.4 1069.2,342.5 1070.1,339.7 1070.9,336.8 1071.9,333.9 1072.8,331.1 1073.8,328.3 1074.8,325.5 1075.9,322.7 1077.1,319.9 1078.3,317.2 1079.6,314.5 1080.9,311.8 1082.4,309.2 1083.9,306.6 1085.5,304.1 1087.3,301.6 1089.2,299.3 1091.1,297.0 1093.2,294.9 1095.4,292.9 1097.8,291.0 1100.2,289.3 1102.7,287.7 1105.4,286.2 1108.1,285.0 1110.9,283.9 1113.8,283.1 1116.7,282.4 1119.7,282.0 1122.7,281.8 1125.7,281.9 1128.6,282.3 1131.6,282.8 1134.5,283.5 1137.4,284.3 1140.2,285.2 1143.1,286.2 1145.9,287.3 1148.7,288.4 1151.4,289.5 1154.2,290.6 1157.0,291.7 1159.8,292.8 1162.6,293.9 1165.4,294.9 1168.3,295.8 1171.1,296.7 1174.0,297.6 1176.8,298.5 1179.7,299.3 1182.6,300.2 1185.5,301.0 1188.3,301.9 1191.2,302.8 1194.0,303.7 1196.9,304.7 1199.7,305.7 1202.5,306.9 1205.2,308.1 1207.9,309.3 1210.6,310.7 1213.2,312.1 1215.8,313.6 1218.4,315.2 1220.9,316.8 1223.4,318.5 1225.8,320.3 1228.2,322.1 1230.5,324.0 1232.8,325.9 1235.0,327.9 1237.2,329.9 1239.4,332.0 1241.5,334.2 1243.5,336.3 1245.5,338.6 1247.5,340.8 1249.4,343.1 1251.3,345.5 1253.1,347.9 1254.9,350.3 1256.6,352.7 1258.3,355.2 1260.0,357.7 1261.6,360.2 1263.1,362.8 1264.7,365.4 1266.1,368.0 1267.6,370.6 1269.0,373.2 1270.3,375.9 1271.7,378.6 1272.9,381.3 1274.2,384.0 1275.4,386.8 1276.6,389.5 1277.7,392.3 1278.8,395.1 1279.9,397.9 1281.0,400.7 1282.0,403.5 1283.0,406.3 1284.0,409.1 1285.0,412.0 1285.9,414.8 1286.8,417.7 1287.8,420.5 1288.7,423.4 1289.6,426.2 1290.4,429.1 1291.3,432.0 1292.2,434.8 1293.1,437.7 1293.9,440.6 1294.8,443.4 1295.7,446.3 1296.6,449.2 1297.4,452.0 1298.3,454.9 1299.2,457.7 1300.2,460.6 1301.1,463.4 1302.0,466.3 1303.0,469.1 1304.0,472.0 1305.0,474.8 1306.0,477.6 1307.1,480.4 1308.2,483.2 1309.3,486.0 1310.4,488.7 1311.6,491.5" stroke="#0808b2"/>
<path d="M176.4,972.0L179.4,971.9 182.4,971.8 185.4,971.7 188.4,971.6 191.4,971.4 194.4,971.3 197.4,971.2 200.4,971.1 203.3,971.0 206.3,970.8 209.3,970.7 212.3,970.6 215.3,970.4 218.3,970.3 221.3,970.1 224.3,970.0 227.3,969.9 230.3,969.7 233.3,969.6 236.3,969.4 239.3,969.3 242.3,969.1 245.2,968.9 248.2,968.8 251.2,968.6 254.2,968.5 257.2,968.3 260.2,968.1 263.2,967.9 266.2,967.8 269.2,967.6 272.2,967.4 275.2,967.2 278.2,967.1 281.1,966.9 284.1,966.7 287.1,966.5 290.1,966.3 293.1,966.1 296.1,965.9 299.1,965.7 302.1,965.5 305.1,965.3 308.1,965.1 311.0,964.9 314.0,964.7 317.0,964.5 320.0,964.3 323.0,964.1 326.0,963.8 329.0,963.6 332.0,963.4 335.0,963.2 337.9,963.0 340.9,962.7 343.9,962.5 346.9,962.3 349.9,962.1 352.9,961.8 355.9,961.6 358.9,961.4 361.8,961.1 364.8,960.9 367.8,960.6 370.8,960.4 373.8,960.2 376.8,959.9 379.8,959.7 382.7,959.4 385.7,959.2 388.7,958.9 391.7,958.7 394.7,958.4 397.7,958.1 400.7,957.9 403.6,957.6 406.6,957.4 409.6,957.1 412.6,956.8 415.6,956.6 418.6,956.3 421.6,956.0 424.5,955.8 427.5,955.5 430.5,955.2 433.5,954.9 436.5,954.7 439.5,954.4 442.4,954.1 445.4,953.8 448.4,953.5 451.4,953.2 454.4,952.9 457.4,952.6 460.3,952.3 463.3,952.0 466.3,951.7 469.3,951.4 472.2,951.0 475.2,950.7 478.2,950.3 481.2,950.0 484.1,949.6 487.1,949.2 490.1,948.8 493.1,948.4 496.0,947.9 499.0,947.5 501.9,947.0 504.9,946.6 507.9,946.1 510.8,945.6 513.8,945.1 516.7,944.5 519.7,944.0 522.6,943.4 525.5,942.8 528.5,942.2 531.4,941.6 534.3,940.9 537.2,940.2 540.2,939.5 543.1,938.8 546.0,938.1 548.9,937.3 551.8,936.5 554.6,935.7 557.5,934.9 560.4,934.0 563.3,933.1 566.1,932.2 569.0,931.3 571.8,930.3 574.6,929.3 577.4,928.3 580.2,927.2 583.0,926.2 585.8,925.0 588.6,923.9 591.3,922.7 594.1,921.5 596.8,920.3 599.5,919.1 602.3,917.8 604.9,916.5 607.6,915.1 610.3,913.7 612.9,912.3 615.6,910.9 618.2,909.4 620.8,907.9 623.3,906.4 625.9,904.8 628.4,903.2 630.9,901.6 633.4,899.9 635.9,898.2 638.3,896.5 640.8,894.7 643.2,892.9 645.5,891.1 647.9,889.3 650.2,887.4 652.5,885.4 654.8,883.5 657.0,881.5 659.2,879.5 661.4,877.4 663.6,875.4 665.8,873.3 667.9,871.2 670.0,869.1 672.1,867.0 674.2,864.8 676.3,862.7 678.4,860.5 680.5,858.4 682.5,856.2 684.6,854.0 686.7,851.8 688.7,849.7 690.8,847.5 692.8,845.3 694.9,843.1 697.0,841.0 699.1,838.8 701.2,836.7 703.3,834.6 705.4,832.5 707.6,830.4 709.7,828.3 711.9,826.2 714.1,824.2 716.3,822.2 718.6,820.2 720.9,818.3 723.2,816.3 725.5,814.5 727.9,812.6 730.2,810.8 732.7,809.1 735.1,807.3 737.6,805.7 740.2,804.1 742.7,802.5 745.3,801.0 747.9,799.6 750.6,798.2 753.3,796.9 756.0,795.6 758.8,794.4 761.5,793.3 764.3,792.3 767.2,791.3 770.0,790.4 772.9,789.5 775.8,788.8 778.7,788.1 781.7,787.5 784.6,787.0 787.6,786.5 790.6,786.2 793.5,786.0 796.5,785.8 799.5,785.7 802.5,785.7 805.5,785.9 808.5,786.1 811.5,786.4 814.5,786.8 817.4,787.3 820.3,787.9 823.3,788.6 826.2,789.3 829.0,790.1 831.9,790.9 834.8,791.8 837.7,792.6 840.6,793.4 843.5,794.2 846.4,795.0 849.3,795.6 852.2,796.2 855.2,796.6 858.2,796.9 861.2,797.1 864.2,797.1 867.2,797.0 870.1,796.7 873.1,796.2 876.0,795.6 878.9,794.9 881.8,794.1 884.7,793.1 887.5,792.0 890.2,790.8 892.9,789.5 895.5,788.1 898.1,786.6 900.7,785.1 903.2,783.4 905.6,781.6 907.9,779.8 910.2,777.8 912.5,775.8 914.6,773.8 916.7,771.6 918.8,769.4 920.7,767.2 922.6,764.8 924.5,762.5 926.3,760.1 928.0,757.6 929.7,755.2 931.3,752.6 932.9,750.1 934.4,747.5 935.9,744.9 937.4,742.3 938.8,739.7 940.2,737.0 941.6,734.4 942.9,731.7 944.2,729.0 945.5,726.3 946.8,723.6 948.1,720.9 949.3,718.1 950.5,715.4 951.8,712.7 953.0,709.9 954.2,707.2 955.4,704.5 956.6,701.7 957.8,699.0 959.0,696.2 960.2,693.5 961.4,690.7 962.6,688.0 963.7,685.2 964.9,682.4 966.0,679.7 967.2,676.9 968.3,674.1 969.4,671.3 970.5,668.6 971.7,665.8 972.8,663.0 973.9,660.2 974.9,657.4 976.0,654.6 977.1,651.8 978.2,649.0 979.2,646.2 980.3,643.4 981.3,640.6 982.3,637.8 983.4,635.0 984.4,632.1 985.4,629.3 986.4,626.5 987.4,623.7 988.4,620.8 989.3,618.0 990.3,615.2 991.3,612.3 992.2,609.5 993.2,606.6 994.1,603.8 995.0,601.0 996.0,598.1 996.9,595.2 997.8,592.4 998.7,589.5 999.6,586.7 1000.4,583.8 1001.3,580.9 1002.2,578.1 1003.0,575.2 1003.9,572.3 1004.7,569.4 1005.5,566.6 1006.4,563.7 1007.2,560.8 1008.0,557.9 1008.8,555.0 1009.6,552.2 1010.4,549.3 1011.3,546.4 1012.1,543.5 1012.9,540.6 1013.8,537.8 1014.7,534.9 1015.6,532.0 1016.5,529.2 1017.4,526.3 1018.4,523.5 1019.4,520.7 1020.5,517.9 1021.6,515.1 1022.7,512.3 1023.8,509.6 1025.0,506.8 1026.3,504.1 1027.5,501.3 1028.8,498.6 1030.0,495.9 1031.3,493.2 1032.6,490.5 1033.9,487.8 1035.2,485.1 1036.5,482.4 1037.8,479.7 1039.1,477.0 1040.3,474.3 1041.5,471.5 1042.8,468.8 1043.9,466.0 1045.1,463.3 1046.2,460.5 1047.3,457.7 1048.3,454.9 1049.3,452.1 1050.3,449.2 1051.3,446.4 1052.3,443.6 1053.3,440.7 1054.3,437.9 1055.2,435.1 1056.3,432.3 1057.3,429.4 1058.3,426.6 1059.4,423.8 1060.6,421.1 1061.8,418.3 1063.0,415.6 1064.3,412.9 1065.6,410.2 1067.1,407.6 1068.6,405.0 1070.2,402.4 1071.8,400.0 1073.6,397.5 1075.4,395.2 1077.3,392.9 1079.3,390.6 1081.4,388.5 1083.6,386.5 1085.9,384.5 1088.3,382.7 1090.7,381.0 1093.3,379.4 1095.9,378.0 1098.7,376.8 1101.5,375.8 1104.4,375.1 1107.4,374.8 1110.4,374.8 1113.3,375.3 1116.2,376.2 1119.0,377.3 1121.6,378.7 1124.1,380.3 1126.6,382.1 1128.9,384.0 1131.1,386.0 1133.2,388.1 1135.3,390.3 1137.3,392.5 1139.2,394.8 1141.1,397.1 1143.0,399.5 1144.8,401.9 1146.6,404.3 1148.3,406.7 1150.0,409.2 1151.6,411.7 1153.2,414.3 1154.8,416.8 1156.3,419.4 1157.8,422.0 1159.2,424.6 1160.6,427.3 1162.0,429.9 1163.3,432.6 1164.6,435.3 1165.9,438.0 1167.1,440.8 1168.4,443.5 1169.5,446.2 1170.7,449.0 1171.9,451.8 1173.0,454.5 1174.1,457.3 1175.2,460.1 1176.3,462.9 1177.3,465.7 1178.4,468.5 1179.4,471.3 1180.5,474.1 1181.5,477.0 1182.5,479.8 1183.6,482.6 1184.6,485.4 1185.6,488.2 1186.6,491.0 1187.7,493.8 1188.7,496.6 1189.8,499.5 1190.8,502.3 1191.9,505.1 1192.9,507.9 1194.0,510.7 1195.1,513.5 1196.2,516.3 1197.3,519.0 1198.4,521.8 1199.5,524.6 1200.6,527.4 1201.7,530.2 1202.8,533.0 1203.9,535.7 1205.1,538.5 1206.2,541.3 1207.3,544.1 1208.5,546.8 1209.6,549.6 1210.8,552.4 1212.0,555.1 1213.1,557.9 1214.3,560.6 1215.5,563.4 1216.7,566.1 1217.9,568.9 1219.1,571.6 1220.3,574.4 1221.5,577.1 1222.7,579.9 1223.9,582.6 1225.2,585.3 1226.4,588.1 1227.6,590.8 1228.9,593.5 1230.1,596.2 1231.3,599.0 1232.6,601.7 1233.9,604.4 1235.1,607.1 1236.4,609.8 1237.7,612.6 1238.9,615.3 1240.2,618.0 1241.5,620.7 1242.8,623.4 1244.2,626.0 1245.5,628.7 1246.9,631.4 1248.3,634.0 1249.7,636.7 1251.2,639.3 1252.6,641.9 1254.1,644.5 1255.7,647.1 1257.2,649.6 1258.9,652.1 1260.5,654.6 1262.2,657.1 1263.9,659.6 1265.7,662.0 1267.6,664.3 1269.4,666.7 1271.4,669.0 1273.4,671.2 1275.4,673.4 1277.5,675.5 1279.6,677.6 1281.9,679.7 1284.1,681.6 1286.4,683.5 1288.8,685.4 1291.2,687.1 1293.7,688.8 1296.2,690.4 1298.8,691.9 1301.4,693.4 1304.1,694.8 1306.8,696.1 1309.5,697.3 1312.3,698.4" stroke="#d21ec8"/>
<path d="M176.4,973.5L179.4,973.4 182.4,973.2 185.4,973.1 188.4,972.9 191.4,972.8 194.4,972.7 197.4,972.5 200.4,972.4 203.4,972.2 206.4,972.1 209.3,972.0 212.3,971.8 215.3,971.7 218.3,971.5 221.3,971.4 224.3,971.2 227.3,971.1 230.3,970.9 233.3,970.8 236.3,970.6 239.3,970.5 242.3,970.3 245.3,970.2 248.3,970.0 251.3,969.9 254.3,969.7 257.3,969.5 260.3,969.4 263.3,969.2 266.3,969.1 269.3,968.9 272.2,968.7 275.2,968.6 278.2,968.4 281.2,968.2 284.2,968.0 287.2,967.9 290.2,967.7 293.2,967.5 296.2,967.3 299.2,967.2 302.2,967.0 305.2,966.8 308.2,966.6 311.2,966.4 314.2,966.2 317.2,966.0 320.1,965.8 323.1,965.6 326.1,965.4 329.1,965.2 332.1,965.0 335.1,964.8 338.1,964.6 341.1,964.4 344.1,964.2 347.1,964.0 350.1,963.8 353.1,963.5 356.0,963.3 359.0,963.1 362.0,962.9 365.0,962.6 368.0,962.4 371.0,962.2 374.0,961.9 377.0,961.7 380.0,961.4 383.0,961.2 385.9,960.9 388.9,960.7 391.9,960.4 394.9,960.2 397.9,959.9 400.9,959.7 403.9,959.4 406.9,959.1 409.8,958.8 412.8,958.6 415.8,958.3 418.8,958.0 421.8,957.7 424.8,957.4 427.8,957.1 430.7,956.8 433.7,956.6 436.7,956.2 439.7,955.9 442.7,955.6 445.7,955.3 448.6,955.0 451.6,954.7 454.6,954.4 457.6,954.0 460.6,953.7 463.5,953.4 466.5,953.0 469.5,952.7 472.5,952.3 475.5,952.0 478.4,951.6 481.4,951.2 484.4,950.8 487.4,950.4 490.3,950.0 493.3,949.6 496.3,949.1 499.2,948.7 502.2,948.2 505.1,947.7 508.1,947.2 511.0,946.7 514.0,946.1 516.9,945.5 519.9,944.9 522.8,944.3 525.7,943.7 528.7,943.0 531.6,942.3 534.5,941.6 537.4,940.9 540.3,940.1 543.2,939.3 546.1,938.4 548.9,937.6 551.8,936.7 554.6,935.7 557.5,934.8 560.3,933.7 563.1,932.7 565.9,931.6 568.7,930.5 571.5,929.3 574.2,928.1 576.9,926.9 579.6,925.6 582.3,924.2 585.0,922.9 587.6,921.4 590.2,920.0 592.8,918.5 595.4,916.9 597.9,915.3 600.4,913.6 602.9,912.0 605.4,910.2 607.8,908.5 610.2,906.7 612.5,904.8 614.9,902.9 617.2,901.0 619.5,899.1 621.7,897.1 624.0,895.1 626.2,893.1 628.4,891.0 630.5,888.9 632.6,886.8 634.7,884.7 636.8,882.5 638.9,880.3 640.9,878.1 642.9,875.9 644.9,873.7 646.9,871.4 648.8,869.1 650.8,866.8 652.7,864.5 654.6,862.2 656.4,859.8 658.3,857.5 660.1,855.1 661.9,852.7 663.7,850.3 665.5,847.9 667.2,845.5 669.0,843.0 670.7,840.6 672.4,838.1 674.1,835.6 675.8,833.2 677.6,830.7 679.3,828.3 681.0,825.8 682.8,823.4 684.6,821.0 686.4,818.6 688.3,816.3 690.2,814.0 692.2,811.7 694.2,809.5 696.3,807.4 698.5,805.3 700.8,803.4 703.2,801.5 705.6,799.8 708.1,798.2 710.7,796.7 713.4,795.4 716.2,794.2 719.0,793.1 721.9,792.3 724.8,791.6 727.7,791.1 730.7,790.7 733.7,790.6 736.7,790.6 739.7,790.9 742.6,791.4 745.6,792.1 748.5,792.9 751.3,793.9 754.1,795.0 756.8,796.2 759.5,797.4 762.2,798.8 764.9,800.2 767.5,801.7 770.1,803.2 772.7,804.7 775.2,806.2 777.8,807.7 780.4,809.3 783.0,810.8 785.6,812.3 788.2,813.7 790.8,815.2 793.5,816.6 796.2,817.9 798.9,819.2 801.6,820.5 804.4,821.7 807.1,822.8 810.0,823.8 812.8,824.7 815.7,825.5 818.6,826.2 821.6,826.8 824.5,827.1 827.5,827.3 830.5,827.3 833.5,827.1 836.5,826.7 839.4,826.0 842.3,825.2 845.1,824.2 847.9,823.0 850.6,821.7 853.2,820.3 855.8,818.8 858.3,817.1 860.8,815.4 863.2,813.6 865.5,811.7 867.8,809.8 870.0,807.7 872.2,805.7 874.3,803.6 876.4,801.4 878.4,799.2 880.5,797.0 882.4,794.8 884.4,792.5 886.3,790.1 888.1,787.8 890.0,785.4 891.8,783.0 893.6,780.6 895.3,778.2 897.1,775.8 898.8,773.3 900.5,770.8 902.1,768.3 903.8,765.8 905.4,763.3 906.9,760.7 908.5,758.1 910.0,755.6 911.5,753.0 913.0,750.3 914.4,747.7 915.8,745.1 917.2,742.4 918.6,739.7 919.9,737.1 921.2,734.4 922.5,731.7 923.8,729.0 925.1,726.2 926.3,723.5 927.6,720.8 928.8,718.0 930.0,715.3 931.1,712.5 932.3,709.8 933.5,707.0 934.6,704.2 935.8,701.4 936.9,698.7 938.0,695.9 939.1,693.1 940.2,690.3 941.3,687.5 942.4,684.7 943.5,681.9 944.6,679.1 945.6,676.3 946.7,673.5 947.8,670.7 948.9,667.9 950.0,665.1 951.0,662.3 952.1,659.5 953.2,656.7 954.3,653.9 955.4,651.2 956.5,648.4 957.5,645.6 958.6,642.8 959.7,640.0 960.8,637.2 961.9,634.4 963.0,631.6 964.0,628.8 965.1,626.0 966.2,623.2 967.3,620.4 968.4,617.6 969.5,614.8 970.5,612.0 971.6,609.2 972.7,606.4 973.8,603.6 974.9,600.8 975.9,598.0 977.0,595.2 978.1,592.4 979.2,589.6 980.2,586.8 981.3,584.0 982.4,581.2 983.5,578.4 984.5,575.6 985.6,572.8 986.7,570.0 987.7,567.2 988.8,564.4 989.8,561.6 990.9,558.8 991.9,556.0 993.0,553.2 994.0,550.3 995.1,547.5 996.1,544.7 997.2,541.9 998.2,539.1 999.2,536.3 1000.3,533.5 1001.3,530.7 1002.3,527.8 1003.4,525.0 1004.4,522.2 1005.4,519.4 1006.4,516.6 1007.4,513.7 1008.4,510.9 1009.4,508.1 1010.4,505.3 1011.4,502.4 1012.4,499.6 1013.4,496.8 1014.4,493.9 1015.4,491.1 1016.4,488.3 1017.3,485.4 1018.3,482.6 1019.3,479.8 1020.3,476.9 1021.3,474.1 1022.3,471.3 1023.2,468.4 1024.2,465.6 1025.2,462.8 1026.2,459.9 1027.2,457.1 1028.2,454.3 1029.2,451.4 1030.2,448.6 1031.2,445.8 1032.2,443.0 1033.2,440.2 1034.3,437.3 1035.3,434.5 1036.4,431.7 1037.4,428.9 1038.5,426.1 1039.5,423.3 1040.6,420.5 1041.7,417.7 1042.8,414.9 1043.9,412.1 1045.0,409.3 1046.1,406.5 1047.3,403.8 1048.4,401.0 1049.6,398.3 1050.8,395.5 1052.0,392.8 1053.3,390.0 1054.6,387.3 1055.9,384.6 1057.2,381.9 1058.6,379.3 1060.0,376.6 1061.4,374.0 1062.9,371.4 1064.5,368.8 1066.0,366.3 1067.7,363.7 1069.3,361.3 1071.0,358.8 1072.8,356.4 1074.6,354.0 1076.5,351.6 1078.4,349.3 1080.3,347.1 1082.4,344.8 1084.4,342.7 1086.6,340.5 1088.7,338.5 1090.9,336.5 1093.2,334.5 1095.5,332.6 1097.9,330.8 1100.3,329.0 1102.8,327.3 1105.4,325.7 1108.0,324.2 1110.6,322.8 1113.3,321.6 1116.1,320.4 1118.9,319.4 1121.8,318.5 1124.7,317.8 1127.7,317.4 1130.7,317.1 1133.7,317.1 1136.6,317.3 1139.6,317.8 1142.5,318.6 1145.3,319.7 1148.0,320.9 1150.6,322.4 1153.2,324.0 1155.6,325.7 1158.0,327.6 1160.3,329.5 1162.5,331.5 1164.6,333.6 1166.7,335.8 1168.8,338.0 1170.8,340.2 1172.7,342.5 1174.6,344.8 1176.5,347.1 1178.4,349.5 1180.2,351.8 1182.0,354.2 1183.8,356.6 1185.6,359.1 1187.3,361.5 1189.0,364.0 1190.6,366.5 1192.3,369.0 1193.9,371.6 1195.4,374.1 1197.0,376.7 1198.5,379.3 1200.0,381.9 1201.5,384.5 1202.9,387.1 1204.3,389.7 1205.7,392.4 1207.1,395.1 1208.5,397.7 1209.8,400.4 1211.1,403.1 1212.4,405.8 1213.7,408.5 1214.9,411.3 1216.2,414.0 1217.4,416.7 1218.7,419.5 1219.9,422.2 1221.1,424.9 1222.3,427.7 1223.5,430.4 1224.7,433.2 1225.8,436.0 1227.0,438.7 1228.2,441.5 1229.4,444.2 1230.6,447.0 1231.8,449.7 1232.9,452.5 1234.1,455.2 1235.3,458.0 1236.5,460.7 1237.7,463.5 1238.9,466.2 1240.1,469.0 1241.3,471.7 1242.5,474.5 1243.7,477.2 1245.0,480.0 1246.2,482.7 1247.4,485.5 1248.6,488.2 1249.8,490.9 1251.0,493.7 1252.2,496.4 1253.5,499.2 1254.7,501.9 1255.9,504.6 1257.1,507.4 1258.4,510.1 1259.6,512.8 1260.8,515.6 1262.1,518.3 1263.3,521.1 1264.5,523.8 1265.7,526.5 1267.0,529.3 1268.2,532.0 1269.4,534.7 1270.7,537.5 1271.9,540.2 1273.1,542.9 1274.4,545.7 1275.6,548.4 1276.9,551.1 1278.1,553.9 1279.3,556.6 1280.6,559.3 1281.8,562.1 1283.0,564.8 1284.3,567.5 1285.5,570.3 1286.7,573.0 1288.0,575.7 1289.2,578.5 1290.4,581.2 1291.7,583.9 1292.9,586.7 1294.1,589.4 1295.4,592.1 1296.6,594.9 1297.8,597.6 1299.0,600.3 1300.3,603.1 1301.5,605.8 1302.7,608.6 1303.9,611.3 1305.1,614.0 1306.4,616.8 1307.6,619.5 1308.8,622.3 1310.0,625.0" stroke="#640f64"/>
<path d="M176.4,969.5L179.4,969.4 182.4,969.3 185.4,969.2 188.4,969.1 191.4,968.9 194.4,968.8 197.4,968.7 200.4,968.6 203.3,968.5 206.3,968.3 209.3,968.2 212.3,968.1 215.3,968.0 218.3,967.8 221.3,967.7 224.3,967.6 227.3,967.4 230.3,967.3 233.3,967.1 236.3,967.0 239.3,966.8 242.3,966.7 245.3,966.5 248.3,966.4 251.2,966.2 254.2,966.1 257.2,965.9 260.2,965.7 263.2,965.6 266.2,965.4 269.2,965.2 272.2,965.1 275.2,964.9 278.2,964.7 281.2,964.5 284.2,964.3 287.1,964.2 290.1,964.0 293.1,963.8 296.1,963.6 299.1,963.4 302.1,963.2 305.1,963.0 308.1,962.8 311.1,962.6 314.1,962.4 317.1,962.2 320.0,961.9 323.0,961.7 326.0,961.5 329.0,961.3 332.0,961.1 335.0,960.8 338.0,960.6 341.0,960.4 343.9,960.1 346.9,959.9 349.9,959.7 352.9,959.4 355.9,959.2 358.9,958.9 361.9,958.7 364.9,958.4 367.8,958.2 370.8,957.9 373.8,957.6 376.8,957.4 379.8,957.1 382.8,956.8 385.8,956.6 388.7,956.3 391.7,956.0 394.7,955.7 397.7,955.4 400.7,955.2 403.7,954.9 406.6,954.6 409.6,954.3 412.6,954.0 415.6,953.7 418.6,953.4 421.5,953.1 424.5,952.7 427.5,952.4 430.5,952.1 433.5,951.8 436.4,951.5 439.4,951.2 442.4,950.8 445.4,950.5 448.4,950.2 451.3,949.8 454.3,949.5 457.3,949.1 460.3,948.8 463.3,948.4 466.2,948.1 469.2,947.7 472.2,947.4 475.2,947.0 478.1,946.7 481.1,946.3 484.1,945.9 487.1,945.5 490.0,945.2 493.0,944.8 496.0,944.4 498.9,944.0 501.9,943.6 504.9,943.2 507.9,942.9 510.8,942.5 513.8,942.1 516.8,941.6 519.7,941.2 522.7,940.8 525.7,940.4 528.6,939.9 531.6,939.5 534.5,939.0 537.5,938.5 540.5,938.0 543.4,937.5 546.4,936.9 549.3,936.4 552.3,935.8 555.2,935.2 558.1,934.6 561.1,934.0 564.0,933.3 566.9,932.7 569.8,932.0 572.7,931.2 575.6,930.5 578.5,929.7 581.4,928.9 584.3,928.0 587.1,927.1 590.0,926.2 592.8,925.3 595.7,924.3 598.5,923.3 601.3,922.2 604.1,921.1 606.8,920.0 609.6,918.8 612.3,917.5 615.0,916.3 617.7,915.0 620.4,913.6 623.0,912.2 625.7,910.7 628.3,909.2 630.8,907.7 633.4,906.1 635.9,904.4 638.3,902.7 640.8,901.0 643.2,899.2 645.5,897.4 647.9,895.5 650.2,893.6 652.4,891.6 654.7,889.6 656.9,887.6 659.0,885.5 661.2,883.4 663.3,881.3 665.4,879.1 667.4,877.0 669.5,874.8 671.5,872.5 673.5,870.3 675.4,868.0 677.4,865.7 679.3,863.4 681.2,861.1 683.1,858.8 685.0,856.5 686.8,854.1 688.7,851.7 690.5,849.4 692.3,847.0 694.1,844.6 695.9,842.2 697.6,839.7 699.4,837.3 701.2,834.9 702.9,832.5 704.7,830.0 706.4,827.6 708.1,825.1 709.9,822.7 711.6,820.2 713.3,817.8 715.1,815.3 716.8,812.9 718.5,810.5 720.3,808.0 722.1,805.6 723.9,803.3 725.8,801.0 727.8,798.7 729.9,796.6 732.1,794.5 734.3,792.5 736.7,790.7 739.2,789.0 741.8,787.5 744.4,786.1 747.1,784.8 749.9,783.7 752.7,782.7 755.6,781.9 758.5,781.2 761.5,780.7 764.5,780.4 767.5,780.3 770.5,780.5 773.4,780.9 776.4,781.6 779.2,782.5 782.0,783.6 784.7,784.9 787.3,786.3 789.8,787.9 792.3,789.7 794.7,791.5 797.0,793.4 799.3,795.3 801.5,797.3 803.8,799.3 805.9,801.4 808.1,803.4 810.3,805.5 812.5,807.5 814.7,809.6 816.9,811.6 819.1,813.6 821.3,815.6 823.6,817.6 825.9,819.5 828.2,821.4 830.6,823.3 832.9,825.1 835.4,826.9 837.8,828.6 840.3,830.3 842.8,831.9 845.4,833.4 848.0,834.9 850.6,836.3 853.3,837.6 856.1,838.8 858.9,839.9 861.7,840.9 864.6,841.8 867.5,842.5 870.4,843.0 873.4,843.4 876.4,843.5 879.4,843.5 882.4,843.3 885.3,842.8 888.3,842.2 891.2,841.4 894.0,840.4 896.8,839.3 899.5,838.1 902.2,836.7 904.8,835.3 907.4,833.7 909.9,832.1 912.3,830.3 914.7,828.6 917.1,826.7 919.4,824.8 921.6,822.8 923.8,820.7 926.0,818.7 928.1,816.5 930.1,814.3 932.1,812.1 934.1,809.8 935.9,807.5 937.8,805.1 939.6,802.7 941.3,800.3 943.0,797.8 944.7,795.3 946.3,792.8 947.8,790.2 949.3,787.6 950.8,785.0 952.2,782.4 953.5,779.7 954.9,777.0 956.2,774.3 957.4,771.6 958.6,768.8 959.8,766.1 961.0,763.3 962.1,760.5 963.2,757.8 964.3,755.0 965.3,752.2 966.4,749.3 967.4,746.5 968.4,743.7 969.4,740.9 970.4,738.0 971.3,735.2 972.3,732.4 973.2,729.5 974.2,726.7 975.1,723.8 976.0,721.0 977.0,718.1 977.9,715.3 978.8,712.4 979.8,709.6 980.7,706.7 981.6,703.9 982.5,701.0 983.4,698.2 984.3,695.3 985.2,692.5 986.1,689.6 987.0,686.7 987.9,683.9 988.8,681.0 989.7,678.1 990.5,675.3 991.4,672.4 992.3,669.5 993.1,666.7 994.0,663.8 994.8,660.9 995.7,658.0 996.5,655.2 997.3,652.3 998.2,649.4 999.0,646.5 999.8,643.6 1000.6,640.7 1001.4,637.8 1002.2,635.0 1002.9,632.1 1003.7,629.2 1004.5,626.3 1005.3,623.4 1006.0,620.5 1006.8,617.6 1007.5,614.7 1008.2,611.8 1009.0,608.9 1009.7,605.9 1010.4,603.0 1011.1,600.1 1011.8,597.2 1012.5,594.3 1013.2,591.4 1013.9,588.5 1014.6,585.5 1015.3,582.6 1015.9,579.7 1016.6,576.8 1017.3,573.9 1017.9,570.9 1018.6,568.0 1019.2,565.1 1019.9,562.2 1020.5,559.2 1021.1,556.3 1021.8,553.4 1022.4,550.4 1023.0,547.5 1023.6,544.6 1024.2,541.6 1024.8,538.7 1025.4,535.8 1026.0,532.8 1026.6,529.9 1027.2,527.0 1027.8,524.0 1028.4,521.1 1029.0,518.1 1029.6,515.2 1030.1,512.3 1030.7,509.3 1031.3,506.4 1031.8,503.4 1032.4,500.5 1033.0,497.5 1033.5,494.6 1034.1,491.7 1034.6,488.7 1035.2,485.8 1035.8,482.8 1036.3,479.9 1036.9,476.9 1037.4,474.0 1037.9,471.0 1038.5,468.1 1039.0,465.1 1039.6,462.2 1040.1,459.2 1040.6,456.3 1041.2,453.3 1041.7,450.4 1042.3,447.4 1042.8,444.5 1043.3,441.6 1043.9,438.6 1044.4,435.7 1044.9,432.7 1045.5,429.8 1046.0,426.8 1046.5,423.9 1047.1,420.9 1047.6,418.0 1048.1,415.0 1048.7,412.1 1049.2,409.1 1049.8,406.2 1050.3,403.2 1050.8,400.3 1051.4,397.3 1051.9,394.4 1052.5,391.4 1053.0,388.5 1053.5,385.5 1054.1,382.6 1054.6,379.6 1055.2,376.7 1055.7,373.7 1056.3,370.8 1056.9,367.9 1057.4,364.9 1058.0,362.0 1058.5,359.0 1059.1,356.1 1059.7,353.1 1060.2,350.2 1060.8,347.3 1061.4,344.3 1062.0,341.4 1062.6,338.4 1063.1,335.5 1063.7,332.6 1064.3,329.6 1064.9,326.7 1065.5,323.7 1066.1,320.8 1066.7,317.9 1067.4,314.9 1068.0,312.0 1068.6,309.1 1069.2,306.2 1069.9,303.2 1070.5,300.3 1071.2,297.4 1071.8,294.4 1072.5,291.5 1073.1,288.6 1073.8,285.7 1074.5,282.8 1075.2,279.8 1075.9,276.9 1076.6,274.0 1077.3,271.1 1078.0,268.2 1078.7,265.3 1079.5,262.4 1080.2,259.5 1081.0,256.6 1081.7,253.7 1082.5,250.8 1083.3,247.9 1084.1,245.0 1084.9,242.1 1085.7,239.2 1086.5,236.3 1087.4,233.5 1088.2,230.6 1089.1,227.7 1090.0,224.9 1091.0,222.0 1091.9,219.2 1092.9,216.4 1093.9,213.6 1095.0,210.7 1096.0,207.9 1097.1,205.1 1098.3,202.4 1099.4,199.6 1100.7,196.9 1101.9,194.2 1103.3,191.5 1104.8,188.9 1106.4,186.4 1108.1,183.9 1110.1,181.6 1112.3,179.6 1114.7,177.9 1117.5,176.8 1120.5,176.3 1123.4,176.6 1126.3,177.5 1128.9,178.9 1131.3,180.7 1133.4,182.9 1135.3,185.2 1137.1,187.6 1138.7,190.1 1140.4,192.6 1141.9,195.2 1143.4,197.8 1144.9,200.4 1146.3,203.0 1147.6,205.7 1149.0,208.4 1150.2,211.1 1151.4,213.9 1152.6,216.6 1153.7,219.4 1154.8,222.2 1155.9,225.0 1156.9,227.8 1157.8,230.7 1158.8,233.5 1159.7,236.4 1160.6,239.2 1161.4,242.1 1162.2,245.0 1163.0,247.9 1163.8,250.8 1164.5,253.7 1165.3,256.6 1166.0,259.5 1166.7,262.4 1167.4,265.3 1168.0,268.3 1168.7,271.2 1169.3,274.1 1170.0,277.0 1170.6,280.0 1171.3,282.9 1171.9,285.8 1172.6,288.7 1173.2,291.7 1173.9,294.6 1174.5,297.5 1175.2,300.4 1175.8,303.4 1176.5,306.3 1177.2,309.2 1177.8,312.1 1178.5,315.0 1179.2,318.0 1179.9,320.9 1180.5,323.8 1181.2,326.7 1181.9,329.6 1182.6,332.6 1183.3,335.5 1184.0,338.4 1184.7,341.3 1185.4,344.2 1186.1,347.1 1186.8,350.0 1187.5,353.0 1188.2,355.9 1188.9,358.8 1189.6,361.7 1190.3,364.6 1191.0,367.5 1191.7,370.4 1192.5,373.3 1193.2,376.2 1193.9,379.2 1194.6,382.1 1195.4,385.0 1196.1,387.9 1196.8,390.8 1197.5,393.7 1198.3,396.6 1199.0,399.5 1199.7,402.4 1200.5,405.3 1201.2,408.2 1201.9,411.1 1202.7,414.0 1203.4,416.9 1204.2,419.8 1204.9,422.7 1205.6,425.6 1206.4,428.5 1207.1,431.5 1207.9,434.4 1208.6,437.3 1209.4,440.2 1210.1,443.1 1210.9,446.0 1211.6,448.9 1212.4,451.8 1213.1,454.7 1213.9,457.6 1214.7,460.5 1215.4,463.4 1216.2,466.3 1217.0,469.1 1217.8,472.0 1218.6,474.9 1219.3,477.8 1220.1,480.7 1220.9,483.6 1221.7,486.5 1222.6,489.4 1223.4,492.3 1224.2,495.1 1225.0,498.0 1225.9,500.9 1226.7,503.8 1227.6,506.6 1228.4,509.5 1229.3,512.4 1230.2,515.2 1231.1,518.1 1232.0,521.0 1232.9,523.8 1233.8,526.7 1234.7,529.5 1235.7,532.4 1236.6,535.2 1237.6,538.1 1238.5,540.9 1239.5,543.7 1240.5,546.5 1241.6,549.4 1242.6,552.2 1243.7,555.0 1244.8,557.8 1245.9,560.5 1247.0,563.3 1248.2,566.1 1249.4,568.8 1250.7,571.5 1252.0,574.2 1253.3,576.9 1254.7,579.6 1256.1,582.2 1257.6,584.8 1259.1,587.4 1260.6,590.0 1262.2,592.5 1263.9,595.0 1265.6,597.5 1267.4,599.9 1269.2,602.2 1271.1,604.6 1273.1,606.8 1275.1,609.0 1277.2,611.2 1279.3,613.3 1281.5,615.3 1283.8,617.3 1286.1,619.2 1288.5,621.0 1291.0,622.7 1293.5,624.4 1296.0,625.9 1298.6,627.4 1301.3,628.8 1304.0,630.1 1306.7,631.3 1309.5,632.5 1312.3,633.5" stroke="#1e7676"/>
</g>
<g font-size="48">
<text x="176.4" y="1040" text-anchor="middle">1.0</text>
<text x="319.8" y="1040" text-anchor="middle">1.5</text>
<text x="463.1" y="1040" text-anchor="middle">2.0</text>
<text x="606.5" y="1040" text-anchor="middle">2.5</text>
<text x="749.9" y="1040" text-anchor="middle">3.0</text>
<text x="893.3" y="1040" text-anchor="middle">3.5</text>
<text x="1036.7" y="1040" text-anchor="middle">4.0</text>
<text x="1180.0" y="1040" text-anchor="middle">4.5</text>
<text x="1323.4" y="1040" text-anchor="middle">5.0</text>
<text x="155.8" y="996.8" text-anchor="end">0</text>
<text x="155.8" y="870.2" text-anchor="end">1</text>
<text x="155.8" y="743.6" text-anchor="end">2</text>
<text x="155.8" y="617.0" text-anchor="end">3</text>
<text x="155.8" y="490.4" text-anchor="end">4</text>
<text x="155.8" y="363.8" text-anchor="end">5</text>
<text x="155.8" y="237.2" text-anchor="end">6</text>
<text x="155.8" y="110.6" text-anchor="end">7</text>
</g>
<rect x="201" y="86" width="540" height="310.4" fill="#fff" stroke="#505050" stroke-width="2.2"/>
<g stroke-width="6" stroke-linecap="round">
<line x1="206.5" y1="114.5" x2="298.5" y2="114.5" stroke="#000000"/>
<line x1="206.5" y1="165.2" x2="298.5" y2="165.2" stroke="#c3141e"/>
<line x1="206.5" y1="215.9" x2="298.5" y2="215.9" stroke="#0808b2"/>
<line x1="206.5" y1="266.6" x2="298.5" y2="266.6" stroke="#d21ec8"/>
<line x1="206.5" y1="317.3" x2="298.5" y2="317.3" stroke="#640f64"/>
<line x1="206.5" y1="368.0" x2="298.5" y2="368.0" stroke="#1e7676"/>
</g>
<g font-size="41.5">
<text x="309.2" y="128.1">LFO/STON, d= 14 nm</text>
<text x="309.2" y="178.8">LFO/STON, d= 21 nm</text>
<text x="309.2" y="229.5">LFO/STON, d= 29 nm</text>
<text x="309.2" y="280.2">LFO/STON, d= 32 nm</text>
<text x="309.2" y="330.9">LFO/STON, d= 132 nm</text>
<text x="309.2" y="381.6">LFO/STON, d= 192 nm</text>
</g>
<g>
<line x1="1085.4" y1="105.8" x2="1085.4" y2="165.7" stroke="#000" stroke-width="6"/><path d="M1073.7,163.7 L1097.1000000000001,163.7 L1085.4,209.5 Z" fill="#000"/>
<line x1="1212" y1="106.5" x2="1212" y2="121.3" stroke="#000" stroke-width="6"/><path d="M1200.1,119.3 L1223.9,119.3 L1212,167.3 Z" fill="#000"/>
<line x1="799.5" y1="639.2" x2="799.5" y2="699" stroke="#000" stroke-width="6.2"/><path d="M787.3,697 L811.7,697 L799.5,746.5 Z" fill="#000"/>
<line x1="723.9" y1="682" x2="723.9" y2="742.4" stroke="#000" stroke-width="6.2"/><path d="M711.9,740.4 L735.9,740.4 L723.9,787.3 Z" fill="#000"/>
</g>
<g font-size="47.5">
<text x="848" y="128">E=4.16 eV</text>
<text x="689" y="590">E=3.14 eV</text>
<text x="510.8" y="652">E=2.92 eV</text>
</g>
<text x="1113.7" y="98.7" font-size="42">E=4.62 eV</text>
<text x="681.5" y="1118.5" font-size="49">E (eV)</text>
<g transform="translate(64.6,516.4) rotate(-90)">
<text x="0" y="0" font-size="48" style="font-family:'Liberation Serif',serif">ε</text>
<text x="19.5" y="13.2" font-size="34.5">2</text>
</g>
</svg>
</body></html>
